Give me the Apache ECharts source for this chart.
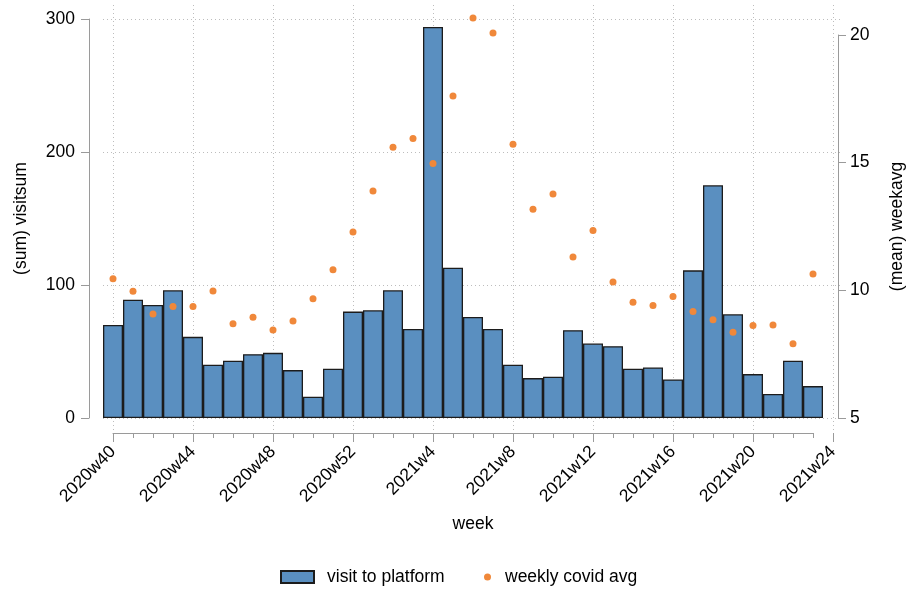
<!DOCTYPE html>
<html><head><meta charset="utf-8">
<script src="https://cdn.jsdelivr.net/npm/echarts@6/dist/echarts.min.js"></script>
<style>html,body{margin:0;padding:0;background:#fff}#c{width:907px;height:590px}</style>
</head><body><div id="c"></div>
<script>
const weeks = ['2020w40','2020w41','2020w42','2020w43','2020w44','2020w45','2020w46','2020w47','2020w48','2020w49','2020w50','2020w51','2020w52',
  '2021w1','2021w2','2021w3','2021w4','2021w5','2021w6','2021w7','2021w8','2021w9','2021w10','2021w11','2021w12','2021w13','2021w14','2021w15','2021w16','2021w17','2021w18','2021w19','2021w20','2021w21','2021w22','2021w23','2021w24'];
const visits = [70,89,85,96,61,40,43,48,49,36,16,37,80,
  81,96,67,294,113,76,67,40,30,31,66,56,54,37,38,29,111,175,78,33,18,43,24];
const covidAvg = [10.45,9.96,9.07,9.37,9.37,9.97,8.69,8.95,8.45,8.80,9.67,10.81,12.28,
  13.89,15.60,15.95,14.97,17.61,20.67,20.08,15.72,13.18,13.77,11.31,12.34,10.33,9.53,9.41,9.76,9.17,8.85,8.36,8.62,8.64,7.91,10.64];
const leftRange = [0, 300, 100];
const rightRange = [5, 20, 5];

const FONT = "'Liberation Sans', Arial, Helvetica, sans-serif";
const AX = '#9a9a9a';
const GRIDC = '#bdbdbd';
const FS = 17.5;
const major = (i) => i % 4 === 0;

const chart = echarts.init(document.getElementById('c'), null, {renderer: 'canvas'});
chart.setOption({
  animation: false,
  backgroundColor: '#fff',
  textStyle: {fontFamily: FONT},
  grid: [
    {left: 103, right: 64, top: 19, bottom: 172, outerBoundsMode: 'none'},
    {left: 103, right: 64, top: 35, bottom: 172, outerBoundsMode: 'none'},
    {left: 103, right: 64, top: 5, bottom: 157, outerBoundsMode: 'none'},
    {left: 113, right: 94, top: 5, bottom: 157, outerBoundsMode: 'none'}
  ],
  xAxis: [
    {gridIndex: 0, type: 'category', data: weeks, boundaryGap: true, offset: 15,
     axisLine: {show: false, onZero: false},
     axisTick: {show: true, alignWithLabel: true, interval: major, length: 9, lineStyle: {color: AX, width: 1}},
     axisLabel: {interval: major, rotate: 45, margin: 16, fontSize: FS, color: '#000', fontFamily: FONT, hideOverlap: false},
     splitLine: {show: false},
     name: 'week', nameLocation: 'middle', nameGap: 82,
     nameTextStyle: {fontSize: FS, color: '#000', fontFamily: FONT}},
    {gridIndex: 1, type: 'category', data: weeks, boundaryGap: true, offset: 15,
     axisLine: {show: false, onZero: false},
     axisTick: {show: true, alignWithLabel: true, interval: (i) => i < weeks.length - 1, length: 5, lineStyle: {color: AX, width: 1}},
     axisLabel: {show: false}, splitLine: {show: false}},
    {gridIndex: 2, type: 'category', data: weeks, boundaryGap: true,
     axisLine: {show: false, onZero: false}, axisTick: {show: false}, axisLabel: {show: false},
     splitLine: {show: true, alignWithLabel: true, interval: major, lineStyle: {color: GRIDC, type: [1, 3], width: 1}}},
    {gridIndex: 3, type: 'value', min: 0, max: 1,
     axisLine: {show: true, onZero: false, lineStyle: {color: AX, width: 1}},
     axisTick: {show: false}, axisLabel: {show: false}, splitLine: {show: false}}
  ],
  yAxis: [
    {gridIndex: 0, type: 'value', min: leftRange[0], max: leftRange[1], interval: leftRange[2], position: 'left', offset: 14,
     axisLine: {show: true, onZero: false, lineStyle: {color: AX, width: 1}},
     axisTick: {show: true, length: 8, lineStyle: {color: AX, width: 1}},
     axisLabel: {margin: 14, fontSize: FS, color: '#000', fontFamily: FONT},
     splitLine: {show: true, lineStyle: {color: GRIDC, type: [1, 3], width: 1}},
     name: '(sum) visitsum', nameLocation: 'middle', nameGap: 59,
     nameTextStyle: {fontSize: FS, color: '#000', fontFamily: FONT}},
    {gridIndex: 1, type: 'value', min: rightRange[0], max: rightRange[1], interval: rightRange[2], position: 'right', offset: -5,
     axisLine: {show: true, onZero: false, lineStyle: {color: AX, width: 1}},
     axisTick: {show: true, length: 8, lineStyle: {color: AX, width: 1}},
     axisLabel: {margin: 12, fontSize: FS, color: '#000', fontFamily: FONT},
     splitLine: {show: false},
     name: '(mean) weekavg', nameLocation: 'middle', nameGap: 50,
     nameTextStyle: {fontSize: FS, color: '#000', fontFamily: FONT}},
    {gridIndex: 2, type: 'value', show: false},
    {gridIndex: 3, type: 'value', show: false}
  ],
  legend: [
    {data: ['visit to platform'], left: 280, top: 568, padding: 0, itemWidth: 33, itemHeight: 12, icon: 'rect',
     textStyle: {fontSize: FS, color: '#000', fontFamily: FONT, padding: [0, 0, 0, 8]}},
    {data: ['weekly covid avg'], left: 484, top: 568, padding: 0, itemWidth: 7, itemHeight: 7, icon: 'circle',
     textStyle: {fontSize: FS, color: '#000', fontFamily: FONT, padding: [0, 0, 0, 9]}}
  ],
  series: [
    {name: 'visit to platform', type: 'bar', xAxisIndex: 0, yAxisIndex: 0, data: visits,
     barCategoryGap: '0%', z: 2,
     itemStyle: {color: '#5a8fc0', borderColor: '#1c1c1c', borderWidth: 1.3, opacity: 1}},
    {name: 'weekly covid avg', type: 'scatter', xAxisIndex: 1, yAxisIndex: 1, data: covidAvg,
     symbol: 'circle', symbolSize: 7, clip: false, z: 3,
     itemStyle: {color: '#f0883a', opacity: 1}}
  ]
});
</script></body></html>
